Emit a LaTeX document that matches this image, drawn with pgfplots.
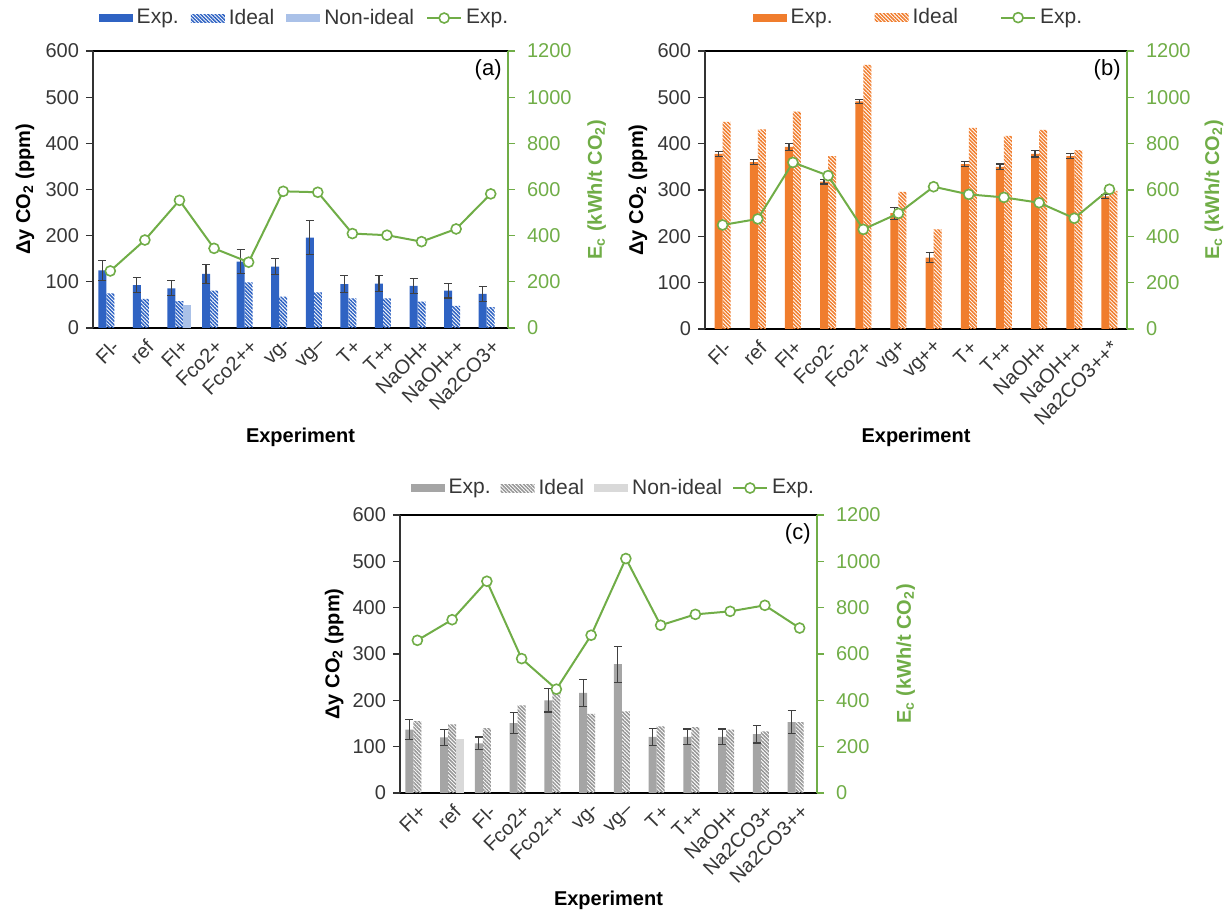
\documentclass[border=0pt]{standalone}
\usepackage{fontspec}
\setmainfont{Liberation Sans}
\usepackage{pgfplots}
\usepackage{pgfplotstable}
\pgfplotsset{compat=1.18}
\usetikzlibrary{patterns.meta}

\definecolor{expblue}{RGB}{47,99,195}
\definecolor{nonblue}{RGB}{170,193,232}
\definecolor{exporange}{RGB}{240,125,45}
\definecolor{expgray}{RGB}{165,165,165}
\definecolor{nongray}{RGB}{217,217,217}
\definecolor{hatchgray}{RGB}{150,150,150}
\definecolor{ecgreen}{RGB}{112,173,71}
\definecolor{ticktext}{RGB}{55,55,55}
\definecolor{errcol}{RGB}{64,64,64}

% columns: x position, measured uptake, its error, ideal uptake, energy consumption
\pgfplotstableread{
x exp err ideal ec
0 125 22 75 247
1 93 17 63 381
2 86 16 58 553
3 117 21 81 345
4 144 26 99 285
5 133 17 68 592
6 196 36 77 588
7 95 18 64 409
8 96 17 64 402
9 91 17 57 374
10 81 16 48 429
11 74 16 45 581
}\dataA

\pgfplotstableread{
x exp err ideal ec
0 378 5 447 449
1 360 5 431 475
2 393 8 469 719
3 318 5 373 662
4 491 5 570 430
5 250 13 296 499
6 154 11 215 614
7 356 5 434 581
8 350 6 417 568
9 378 7 430 545
10 373 5 386 478
11 286 5 298 603
}\dataB

\pgfplotstableread{
x exp err ideal ec
0 137 21 155 659
1 120 17 148 748
2 107 14 140 914
3 151 22 189 580
4 200 25 218 448
5 216 29 171 681
6 278 39 176 1012
7 121 18 144 724
8 121 17 142 771
9 121 17 137 784
10 127 19 133 810
11 153 25 153 712
}\dataC

\pgfplotsset{
  basepanel/.style={
    scale only axis, anchor=south west,
    xmin=-0.5, xmax=11.5,
    /pgf/number format/assume math mode=true,
    /pgf/number format/1000 sep={},
    tick label style={font=\fontsize{10}{12}\selectfont},
    label style={font=\bfseries\fontsize{10}{12}\selectfont},
  },
  barpanel/.style={
    basepanel, ymin=0, ymax=600,
    ybar=0pt, bar width=4pt,
    axis x line*=box, axis y line*=left,
    x axis line style={line width=0.8pt, black},
    y axis line style={line width=0.8pt, black!80},
    xtick={0,...,11}, xtick style={draw=none},
    ytick={0,100,...,600}, tick align=outside, major tick length=3.5pt,
    ytick style={line width=0.6pt, black!80},
    x tick label style={rotate=45, anchor=north east, text=ticktext, inner sep=1pt},
    y tick label style={text=ticktext},
    xlabel={Experiment}, ylabel={Δy CO\textsubscript{2} (ppm)},
    legend cell align=left,
    legend style={draw=none, fill=none, anchor=center, text=ticktext,
      font=\fontsize{10.5}{12}\selectfont},
  },
  ecpanel/.style={
    basepanel, ymin=0, ymax=1200,
    axis x line=none, axis y line*=right,
    y axis line style={line width=0.6pt, ecgreen},
    ytick={0,200,...,1200}, tick align=outside, major tick length=3.5pt,
    ytick style={line width=0.6pt, ecgreen},
    y tick label style={text=ecgreen, xshift=2.5pt},
    ylabel={E\textsubscript{c} (kWh/t CO\textsubscript{2})},
    ylabel style={text=ecgreen},
  },
  barleg/.style={legend image code/.code={\fill[##1] (0pt,-2pt) rectangle (17pt,2pt);}},
  lineleg/.style={legend image code/.code={\draw[##1, sharp plot, mark repeat=2, mark phase=2]
      plot coordinates {(0pt,0pt) (8.5pt,0pt) (17pt,0pt)};}},
  ecline/.style={ecgreen, line width=1pt, mark=*, mark size=2.5pt,
    mark options={fill=white, draw=ecgreen, line width=0.8pt, solid}},
  errbars/.style={error bars/.cd, y dir=both, y explicit,
    error bar style={line width=0.6pt, errcol},
    error mark options={rotate=90, draw=errcol, mark size=2pt, line width=0.6pt}},
  hatch/.style={draw=none, pattern={Lines[angle=-45,distance=1.3pt,line width=0.75pt]}, pattern color=#1},
}

\begin{document}
\begin{tikzpicture}
\useasboundingbox (0,0) rectangle (613.5pt,456.5pt);

% ---------------- panel (a) ----------------
\begin{axis}[barpanel, at={(46.5pt,292.5pt)}, width=207.5pt, height=138.5pt,
  xticklabels={Fl-,ref,Fl+,Fco2+,Fco2++,vg-,vg--,T+,T++,NaOH+,NaOH++,Na2CO3+},
  xlabel style={at={(axis description cs:0.5,-0.394)}, anchor=center},
  ylabel style={at={(axis description cs:-0.164,0.5)}, anchor=center},
  legend columns=4,
  legend style={at={(0.512,1.119)}, /tikz/every even column/.append style={column sep=4pt}}]
\addplot[barleg, fill=expblue, draw=none, errbars] table[x=x, y=exp, y error=err]{\dataA};
\addplot[barleg, hatch=expblue] table[x=x, y=ideal]{\dataA};
\addplot[barleg, fill=nonblue, draw=none] coordinates {(2,50)};
\addlegendimage{ecline, lineleg}
\legend{Exp., Ideal, Non-ideal, Exp.}
\node[anchor=north east, font=\fontsize{11}{13}\selectfont, inner sep=1pt] at (rel axis cs:1,1) [xshift=-2pt, yshift=-3pt] {(a)};
\end{axis}
\begin{axis}[ecpanel, at={(46.5pt,292.5pt)}, width=207.5pt, height=138.5pt,
  ylabel style={at={(axis description cs:1.214,0.5)}, anchor=center}]
\addplot[ecline] table[x=x, y=ec]{\dataA};
\end{axis}

% ---------------- panel (b) ----------------
\begin{axis}[barpanel, at={(352.5pt,292pt)}, width=211pt, height=139pt,
  xticklabels={Fl-,ref,Fl+,Fco2-,Fco2+,vg+,vg++,T+,T++,NaOH+,NaOH++,Na2CO3++*},
  xlabel style={at={(axis description cs:0.5,-0.39)}, anchor=center},
  ylabel style={at={(axis description cs:-0.159,0.5)}, anchor=center},
  legend columns=3,
  legend style={at={(0.508,1.12)}, /tikz/every even column/.append style={column sep=19pt}}]
\addplot[barleg, fill=exporange, draw=none, errbars] table[x=x, y=exp, y error=err]{\dataB};
\addplot[barleg, hatch=exporange] table[x=x, y=ideal]{\dataB};
\addlegendimage{ecline, lineleg}
\legend{Exp., Ideal, Exp.}
\node[anchor=north east, font=\fontsize{11}{13}\selectfont, inner sep=1pt] at (rel axis cs:1,1) [xshift=-2pt, yshift=-3pt] {(b)};
\end{axis}
\begin{axis}[ecpanel, at={(352.5pt,292pt)}, width=211pt, height=139pt,
  ylabel style={at={(axis description cs:1.206,0.5)}, anchor=center}]
\addplot[ecline] table[x=x, y=ec]{\dataB};
\end{axis}

% ---------------- panel (c) ----------------
\begin{axis}[barpanel, at={(200pt,60pt)}, width=208.5pt, height=139pt,
  xticklabels={Fl+,ref,Fl-,Fco2+,Fco2++,vg-,vg--,T+,T++,NaOH+,Na2CO3+,Na2CO3++},
  xlabel style={at={(axis description cs:0.5,-0.385)}, anchor=center},
  ylabel style={at={(axis description cs:-0.158,0.5)}, anchor=center},
  legend columns=4,
  legend style={at={(0.514,1.097)}, /tikz/every even column/.append style={column sep=3pt}}]
\addplot[barleg, fill=expgray, draw=none, errbars] table[x=x, y=exp, y error=err]{\dataC};
\addplot[barleg, hatch=hatchgray] table[x=x, y=ideal]{\dataC};
\addplot[barleg, fill=nongray, draw=none] coordinates {(1,117)};
\addlegendimage{ecline, lineleg}
\legend{Exp., Ideal, Non-ideal, Exp.}
\node[anchor=north east, font=\fontsize{11}{13}\selectfont, inner sep=1pt] at (rel axis cs:1,1) [xshift=-2pt, yshift=-3pt] {(c)};
\end{axis}
\begin{axis}[ecpanel, at={(200pt,60pt)}, width=208.5pt, height=139pt,
  ylabel style={at={(axis description cs:1.213,0.5)}, anchor=center}]
\addplot[ecline] table[x=x, y=ec]{\dataC};
\end{axis}
\end{tikzpicture}
\end{document}
